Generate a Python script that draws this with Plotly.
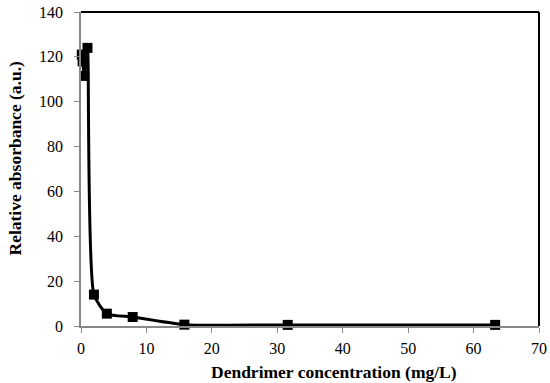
import plotly.graph_objects as go

concentration = [0.12, 0.25, 0.49, 0.99, 1.98, 3.95, 7.9, 15.8, 31.6, 63.3]
absorbance = [121, 118, 111.5, 124, 14, 5.5, 4.0, 0.6, 0.5, 0.5]

x_ticks = [0, 10, 20, 30, 40, 50, 60, 70]
y_ticks = [0, 20, 40, 60, 80, 100, 120, 140]

x_title = "Dendrimer concentration (mg/L)"
y_title = "Relative absorbance (a.u.)"

fig = go.Figure()
fig.add_trace(go.Scatter(
    x=concentration, y=absorbance, mode="lines+markers",
    line=dict(color="black", width=3, shape="spline", smoothing=0.6),
    marker=dict(symbol="square", size=10, color="black"),
    showlegend=False, cliponaxis=False,
))

font_family = "Liberation Serif, Times New Roman, serif"
fig.update_layout(
    width=550, height=383,
    margin=dict(l=81, r=11, t=12, b=57, autoexpand=False),
    paper_bgcolor="white", plot_bgcolor="white",
    font=dict(family=font_family, color="black", size=16),
    xaxis=dict(
        range=[0, 70], tickvals=x_ticks, showgrid=False, zeroline=False,
        showline=True, linecolor="#888888", linewidth=1.5,
        ticks="outside", ticklen=5, tickcolor="#888888",
        tickfont=dict(size=16, family=font_family), ticklabelstandoff=2,
        automargin=False,
    ),
    yaxis=dict(
        range=[0, 140], tickvals=y_ticks, showgrid=False, zeroline=False,
        showline=True, linecolor="#888888", linewidth=1.5,
        ticks="outside", ticklen=5, tickcolor="#888888",
        tickfont=dict(size=16, family=font_family), ticklabelstandoff=8,
        automargin=False,
    ),
)
fig.add_annotation(text="<b>" + x_title + "</b>", xref="paper", yref="paper",
                   x=(334 - 81) / 458, y=-(372 - 326) / 314, xanchor="center", yanchor="middle",
                   showarrow=False, font=dict(size=17.5, family=font_family, color="black"))
fig.add_annotation(text="<b>" + y_title + "</b>", xref="paper", yref="paper",
                   x=-(81 - 15) / 458, y=(326 - 158.5) / 314, xanchor="center", yanchor="middle",
                   textangle=-90, showarrow=False,
                   font=dict(size=17.5, family=font_family, color="black"))
fig.add_shape(type="line", xref="paper", yref="paper", x0=0, x1=1, y0=1, y1=1,
              line=dict(color="black", width=2))
fig.add_shape(type="line", xref="paper", yref="paper", x0=1, x1=1, y0=0, y1=1,
              line=dict(color="black", width=2))

fig.write_html("out.html", config={"displayModeBar": False},
               post_script="document.body.style.margin='0';document.body.style.overflow='hidden';")
